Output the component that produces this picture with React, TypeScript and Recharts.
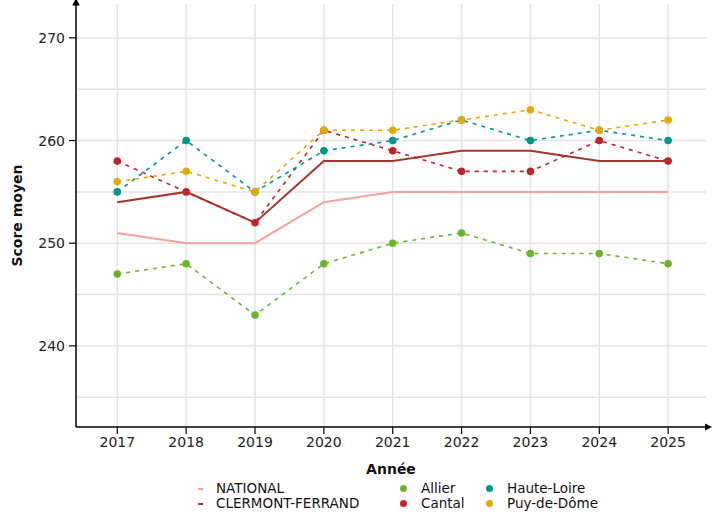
import React from 'react';
import { LineChart, Line, XAxis, YAxis, ReferenceLine } from 'recharts';

const years = [2017, 2018, 2019, 2020, 2021, 2022, 2023, 2024, 2025];
const national = [251, 250, 250, 254, 255, 255, 255, 255, 255];
const clermont = [254, 255, 252, 258, 258, 259, 259, 258, 258];
const allier = [247, 248, 243, 248, 250, 251, 249, 249, 248];
const cantal = [258, 255, 252, 261, 259, 257, 257, 260, 258];
const hauteLoire = [255, 260, 255, 259, 260, 262, 260, 261, 260];
const puyDeDome = [256, 257, 255, 261, 261, 262, 263, 261, 262];

const yTicks = [240, 250, 260, 270];
const yGrid = [235, 240, 245, 250, 255, 260, 265, 270];

const data = years.map((y, i) => ({
  year: y,
  NATIONAL: national[i],
  CF: clermont[i],
  Allier: allier[i],
  Cantal: cantal[i],
  HauteLoire: hauteLoire[i],
  PuyDeDome: puyDeDome[i],
}));

const FONT = '"DejaVu Sans", sans-serif';
const C = {
  national: '#F4A39D',
  cf: '#A3372C',
  allier: '#6AB42D',
  cantal: '#BE2429',
  hl: '#00968A',
  pdd: '#E3A900',
};

const legendText: React.CSSProperties = { position: 'absolute', fontFamily: FONT, fontSize: 13.5, color: '#111', lineHeight: '14px', whiteSpace: 'nowrap' };

export default function App() {
  return (
    <div style={{ position: 'absolute', left: 0, top: 0, width: 718, height: 516, background: '#fff' }}>
      <svg width={0} height={0} style={{ position: 'absolute' }}>
        <defs>
          <marker id="arr" viewBox="0 0 10 10" refX="2" refY="5" markerWidth="5" markerHeight="5" orient="auto-start-reverse">
            <path d="M0,0 L10,5 L0,10 z" fill="#000" />
          </marker>
        </defs>
      </svg>
      <LineChart width={718} height={516} data={data} margin={{ top: 4, right: 12, bottom: 59, left: 2 }}>
        {yGrid.map((v) => (
          <ReferenceLine key={'h' + v} y={v} stroke="#e3e3e3" strokeWidth={1.5} ifOverflow="hidden" />
        ))}
        {years.map((v) => (
          <ReferenceLine key={'v' + v} x={v} stroke="#e3e3e3" strokeWidth={1.5} ifOverflow="hidden" />
        ))}
        <XAxis
          dataKey="year"
          type="number"
          domain={[2016.4, 2025.55]}
          ticks={years}
          allowDataOverflow
          tickSize={7}
          tickMargin={3}
          tick={{ fontSize: 14, fill: '#222', fontFamily: FONT }}
          axisLine={{ stroke: '#000', strokeWidth: 1.5, markerEnd: 'url(#arr)' }}
          tickLine={{ stroke: '#000', strokeWidth: 1.2 }}
          label={{ value: 'Année', position: 'insideBottom', offset: -17, fontSize: 14, fontWeight: 700, fill: '#111', fontFamily: FONT }}
        />
        <YAxis
          type="number"
          domain={[232.1, 273.3]}
          ticks={yTicks}
          allowDataOverflow
          width={74}
          tickSize={7}
          tickMargin={4}
          tick={{ fontSize: 14, fill: '#222', fontFamily: FONT }}
          axisLine={{ stroke: '#000', strokeWidth: 1.5, markerStart: 'url(#arr)' }}
          tickLine={{ stroke: '#000', strokeWidth: 1.2 }}
          label={{ value: 'Score moyen', angle: -90, position: 'insideLeft', offset: 15, fontSize: 14, fontWeight: 700, fill: '#111', fontFamily: FONT, style: { textAnchor: 'middle' } }}
        />
        <Line dataKey="NATIONAL" stroke={C.national} strokeWidth={2} dot={false} isAnimationActive={false} />
        <Line dataKey="CF" stroke={C.cf} strokeWidth={2} dot={false} isAnimationActive={false} />
        <Line dataKey="Allier" stroke={C.allier} strokeWidth={1.6} strokeDasharray="4 5" dot={{ r: 3.8, fill: C.allier, stroke: 'none' }} isAnimationActive={false} />
        <Line dataKey="Cantal" stroke={C.cantal} strokeWidth={1.6} strokeDasharray="4 5" dot={{ r: 3.8, fill: C.cantal, stroke: 'none' }} isAnimationActive={false} />
        <Line dataKey="HauteLoire" stroke={C.hl} strokeWidth={1.6} strokeDasharray="4 5" dot={{ r: 3.8, fill: C.hl, stroke: 'none' }} isAnimationActive={false} />
        <Line dataKey="PuyDeDome" stroke={C.pdd} strokeWidth={1.6} strokeDasharray="4 5" dot={{ r: 3.8, fill: C.pdd, stroke: 'none' }} isAnimationActive={false} />
      </LineChart>
      {/* legend */}
      <div style={{ position: 'absolute', left: 198, top: 488, width: 5, height: 1.5, background: C.national }} />
      <div style={{ ...legendText, left: 216, top: 481 }}>NATIONAL</div>
      <div style={{ position: 'absolute', left: 198, top: 503, width: 5, height: 1.5, background: C.cf }} />
      <div style={{ ...legendText, left: 216, top: 496 }}>CLERMONT-FERRAND</div>
      <div style={{ position: 'absolute', left: 400, top: 485, width: 7, height: 7, borderRadius: 4, background: C.allier }} />
      <div style={{ ...legendText, left: 421, top: 481 }}>Allier</div>
      <div style={{ position: 'absolute', left: 400, top: 500, width: 7, height: 7, borderRadius: 4, background: C.cantal }} />
      <div style={{ ...legendText, left: 421, top: 496 }}>Cantal</div>
      <div style={{ position: 'absolute', left: 486, top: 485, width: 7, height: 7, borderRadius: 4, background: C.hl }} />
      <div style={{ ...legendText, left: 507, top: 481 }}>Haute-Loire</div>
      <div style={{ position: 'absolute', left: 486, top: 500, width: 7, height: 7, borderRadius: 4, background: C.pdd }} />
      <div style={{ ...legendText, left: 507, top: 496 }}>Puy-de-Dôme</div>
    </div>
  );
}
